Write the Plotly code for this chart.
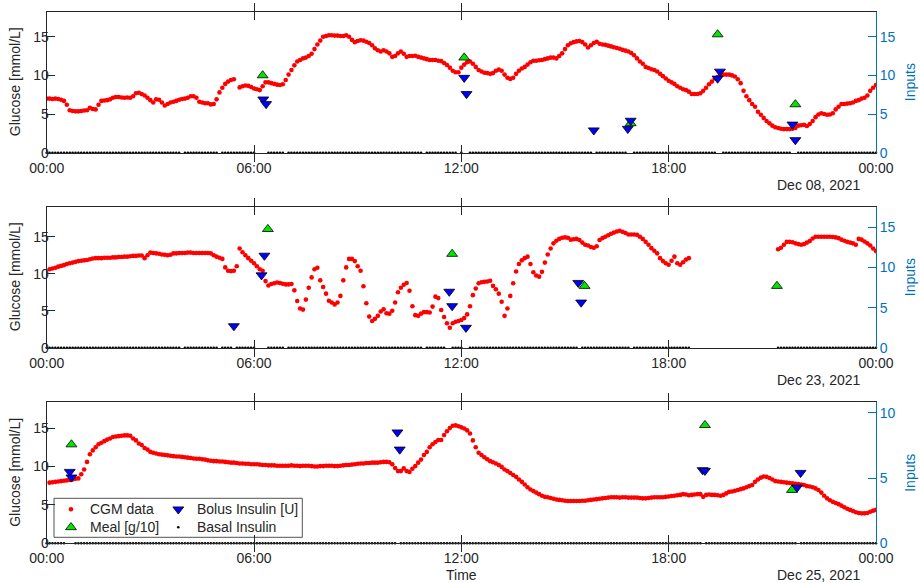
import datetime as dt
import plotly.graph_objects as go

FIG_W, FIG_H = 920, 583
INK = "#262626"
RIGHT_BLUE = "#0072BD"
FONT = "Liberation Sans, Arial, Helvetica, sans-serif"

# ---------------------------------------------------------------- data
days = ["2021-12-08", "2021-12-23", "2021-12-25"]
day_labels = ["Dec 08, 2021", "Dec 23, 2021", "Dec 25, 2021"]

# CGM readings every 5 minutes from 00:00 (None = no reading)
cgm_dec08 = [
    7.0, 7.0, 6.95, 7.0, 6.95, 6.85, 6.7, 6.2, 5.5, 5.4, 5.35, 5.35,
    5.4, 5.45, 5.5, 5.8, 5.65, 5.6, 6.2, 6.7, 6.75, 6.8, 6.9, 7.1,
    7.2, 7.2, 7.15, 7.1, 7.15, 7.1, 7.3, 7.7, 7.75, 7.6, 7.4, 7.1,
    6.8, 6.5, 6.9, 6.85, 6.5, 6.1, 6.3, 6.5, 6.6, 6.7, 6.85, 6.95,
    7.0, 7.1, 7.3, 7.3, 7.1, 6.6, 6.5, 6.4, 6.4, 6.25, 6.3, 6.9,
    7.8, 8.4, 8.9, 9.2, 9.4, 9.5, None, 8.45, 8.6, 8.7, 8.65, 8.5,
    8.3, 8.2, 8.1, 8.6, 9.1, 9.1, 9.0, 8.9, 8.8, 8.75, 8.85, 9.4,
    10.1, 10.7, 11.3, 11.8, 12.0, 12.2, 12.3, 12.5, 12.8, 13.4, 14.0, 14.5,
    15.0, 15.1, 15.2, 15.2, 15.15, 15.15, 15.1, 15.1, 15.2, 15.0, 14.6, 14.3,
    14.45, 14.55, 14.5, 14.35, 14.2, 13.9, 13.5, 13.25, 13.1, 13.25, 13.1, 12.85,
    12.4, 12.5, 12.85, 13.1, 12.8, 12.4, 12.5, 12.5, 12.55, 12.4, 12.3, 12.2,
    12.1, 12.0, 12.0, 12.0, 11.9, 11.85, 11.6, 11.35, 11.0, 10.6, 10.4, 10.4,
    11.0, 11.4, 11.7, 11.8, 11.5, 11.1, 10.7, 10.5, 10.35, 10.3, 10.2, 10.3,
    10.6, 10.75, 10.6, 10.1, 9.7, 9.55, 9.7, 10.2, 10.6, 10.9, 11.1, 11.4,
    11.7, 11.9, 11.9, 11.95, 12.0, 12.1, 12.2, 12.3, 12.3, 12.2, 12.5, 12.85,
    13.4, 13.9, 14.15, 14.3, 14.4, 14.45, 14.3, 14.0, 13.6, 13.9, 14.2, 14.35,
    14.1, 14.0, 13.95, 13.85, 13.75, 13.65, 13.55, 13.45, 13.3, 13.2, 13.1, 12.9,
    12.6, 12.2, 11.8, 11.5, 11.1, 10.95, 10.8, 10.7, 10.5, 10.2, 9.9, 9.6,
    9.3, 9.1, 8.9, 8.6, 8.4, 8.2, 8.1, 7.9, 7.6, 7.6, 7.6, 7.7,
    8.0, 8.4, 8.85, 9.2, 9.6, 9.8, 10.0, 10.1, 10.1, 10.1, 10.0, 9.85,
    9.5, 9.0, 8.0, 7.3, 6.8, 6.3, 5.95, 5.3, 4.9, 4.5, 4.1, 3.8,
    3.5, 3.3, 3.2, 3.1, 3.05, 3.05, 3.05, 3.1, 3.2, 3.5, 3.55, 3.6,
    3.45, 3.7, 4.1, 4.6, 4.95, 5.1, 5.0, 4.9, 4.95, 5.1, 5.6, 5.95,
    6.3, 6.3, 6.35, 6.4, 6.5, 6.7, 6.8, 7.0, 7.1, 7.4, 8.0, 8.4,
    8.75,
]

cgm_dec23 = [
    None, 10.6, 10.7, 10.8, 10.95, 11.05, 11.15, 11.3, 11.4, 11.5, 11.6, 11.7,
    11.75, 11.8, 11.85, 11.95, 12.05, 12.1, 12.1, 12.1, 12.15, 12.15, 12.15, 12.2,
    12.2, 12.25, 12.25, 12.3, 12.3, 12.35, 12.4, 12.4, 12.45, 12.45, 12.1, 12.5,
    12.85, 12.8, 12.75, 12.7, 12.6, 12.55, 12.5, 12.55, 12.75, 12.75, 12.8, 12.8,
    12.8, 12.85, 12.85, 12.8, 12.8, 12.8, 12.8, 12.8, 12.8, 12.75, 12.5, 12.3,
    12.15, 12.0, 10.85, 10.4, 10.35, 10.4, 11.0, 13.4, 12.9, 12.5, 12.1, 11.75,
    11.4, 11.0, 10.6, 10.4, 9.0, 8.4, 8.6, 8.7, 8.8, 8.75, 8.65, 8.55,
    8.55, 8.6, 7.75, 6.3, 5.3, 5.15, 6.5, 8.1, 9.5, 10.6, 10.8, 9.1,
    8.2, 7.3, 6.35, 6.1, 5.85, 6.1, 7.0, 9.1, 10.85, 12.0, 12.0, 11.7,
    11.0, 10.4, 8.3, 6.0, 4.2, 3.6, 3.9, 4.3, 4.9, 5.2, 4.65, 4.6,
    5.0, 6.1, 7.5, 8.1, 8.5, 8.75, 7.7, 5.6, 4.4, 4.3, 4.6, 4.8,
    4.8, 4.75, 5.55, 6.9, 6.7, 5.1, 4.15, 3.3, 2.7, 3.3, 3.5, 3.6,
    3.75, 4.0, 4.5, 5.6, 7.1, 8.0, 8.7, 8.85, 8.9, 8.95, 9.05, 8.35,
    7.9, 7.3, 6.2, 4.3, 5.3, 7.0, 8.7, 10.3, 11.3, 11.8, 12.1, 12.3,
    11.3, 10.2, 9.75, 9.6, 10.25, 11.5, 12.6, 13.4, 14.1, 14.45, 14.7, 14.85,
    14.9, 14.85, 14.6, 14.65, 14.7, 14.55, 14.2, 13.9, 13.8, 13.6, 13.5, 13.7,
    14.55, 14.8, 15.0, 15.2, 15.4, 15.55, 15.7, 15.8, 15.65, 15.5, 15.3, 15.3,
    15.3, 15.25, 15.0, 14.7, 14.3, 13.9, 13.45, 13.1, 12.75, 12.1, 11.7, 11.4,
    11.2, 11.75, 12.3, 11.4, 11.2, 11.55, 11.9, 12.1, None, None, None, None,
    None, None, None, None, None, None, None, None, None, None, None, None,
    None, None, None, None, None, None, None, None, None, None, None, None,
    None, None, 13.3, 13.5, 13.9, 14.3, 14.3, 14.25, 14.1, 14.0, 13.9, 14.0,
    14.2, 14.4, 14.75, 15.0, 15.0, 15.0, 15.0, 15.0, 15.0, 14.95, 14.9, 14.8,
    14.6, 14.45, 14.3, 14.2, 14.1, 13.9, 14.7, 14.6, 14.35, 14.1, 13.8, 13.4,
    13.05,
]

cgm_dec25 = [
    None, 7.9, 7.95, 8.0, 8.05, 8.1, 8.15, 8.2, 8.25, 8.3, 8.4, 8.45,
    9.0, 9.6, 10.6, 11.6, 12.1, 12.5, 12.9, 13.1, 13.3, 13.5, 13.65, 13.85,
    13.9, 13.95, 14.0, 14.05, 14.05, 14.0, 13.65, 13.4, 13.0, 12.8, 12.4, 12.2,
    11.9, 11.8, 11.7, 11.6, 11.55, 11.5, 11.45, 11.4, 11.35, 11.3, 11.3, 11.25,
    11.2, 11.15, 11.1, 11.05, 11.0, 11.0, 10.95, 10.9, 10.8, 10.75, 10.7, 10.7,
    10.65, 10.65, 10.6, 10.55, 10.5, 10.5, 10.45, 10.4, 10.4, 10.35, 10.35, 10.3,
    10.3, 10.3, 10.25, 10.2, 10.2, 10.15, 10.15, 10.15, 10.1, 10.1, 10.1, 10.1,
    10.1, 10.15, 10.1, 10.1, 10.05, 10.1, 10.1, 10.1, 10.05, 10.0, 10.0, 10.05,
    10.05, 10.1, 10.1, 10.1, 10.05, 10.05, 10.1, 10.15, 10.2, 10.2, 10.25, 10.3,
    10.35, 10.4, 10.4, 10.45, 10.45, 10.5, 10.5, 10.5, 10.55, 10.6, 10.6, 10.55,
    10.3, 9.8, 9.4, 9.4, 9.75, 9.4, 9.3, 9.7, 10.05, 10.5, 10.9, 11.5,
    11.9, 12.5, 12.9, 13.2, 13.45, 13.45, 14.1, 14.6, 15.0, 15.3, 15.35, 15.25,
    15.1, 14.95, 14.7, 14.3, 13.4, 12.5, 11.8, 11.5, 11.2, 10.95, 10.7, 10.55,
    10.4, 10.2, 9.95, 9.6, 9.4, 9.15, 8.9, 8.65, 8.3, 8.0, 7.65, 7.3,
    7.0, 6.8, 6.6, 6.4, 6.2, 6.05, 6.0, 5.9, 5.8, 5.7, 5.65, 5.6,
    5.55, 5.5, 5.5, 5.5, 5.5, 5.5, 5.55, 5.55, 5.6, 5.65, 5.7, 5.75,
    5.8, 5.85, 5.9, 5.95, 6.0, 6.0, 6.0, 5.95, 6.0, 6.0, 5.95, 5.95,
    5.95, 5.95, 5.9, 5.85, 5.85, 5.9, 5.95, 6.0, 6.0, 6.0, 6.0, 6.05,
    6.1, 6.15, 6.2, 6.25, 6.3, 6.4, 6.35, 6.25, 6.3, 6.35, 6.4, 6.4,
    6.05, 6.3, 6.35, 6.3, 6.3, 6.25, 6.2, 6.3, 6.5, 6.7, 6.75, 6.85,
    6.95, 7.05, 7.15, 7.3, 7.45, 7.6, 8.0, 8.3, 8.55, 8.7, 8.65, 8.5,
    8.3, 8.1, 8.05, 8.0, 7.95, 7.9, 7.85, 7.8, 7.75, 7.7, 7.65, 7.6,
    7.45, 7.4, 7.3, 7.15, 6.95, 6.6, 6.2, 5.85, 5.6, 5.4, 5.25, 5.1,
    4.9, 4.7, 4.5, 4.35, 4.2, 4.05, 3.95, 3.9, 3.9, 3.95, 4.1, 4.25,
    4.35,
]

# meals [g/10]
meal_times_dec08 = ["06:15", "12:05", "16:54", "19:25", "21:40"]
meal_values_dec08 = [10.0, 12.3, 3.8, 15.3, 6.25]
meal_times_dec23 = ["06:24", "11:44", "15:34", "21:08"]
meal_values_dec23 = [14.8, 11.7, 7.7, 7.7]
meal_times_dec25 = ["00:43", "19:03", "21:34"]
meal_values_dec25 = [7.57, 9.05, 4.08]

# bolus insulin [U]
bolus_times_dec08 = ["06:16", "06:21", "12:05", "12:09", "15:50", "16:49",
                     "16:54", "19:25", "19:29", "21:35", "21:40"]
bolus_values_dec08 = [6.9, 6.3, 9.7, 7.6, 2.9, 3.1, 4.15, 9.6, 10.5, 3.65, 1.64]
bolus_times_dec23 = ["05:25", "06:13", "06:18", "11:39", "11:44", "12:08",
                     "15:23", "15:28"]
bolus_values_dec23 = [2.7, 9.05, 11.5, 7.0, 5.2, 2.5, 8.1, 5.65]
bolus_times_dec25 = ["00:40", "00:43", "10:09", "10:13", "18:59", "19:03",
                     "21:43", "21:49"]
bolus_values_dec25 = [5.48, 5.05, 8.5, 7.19, 5.61, 5.56, 4.28, 5.4]

# basal insulin, logged every 5 minutes; these slots have no record
basal_missing_dec08 = ["03:55", "05:00", "06:05", "06:10", "06:15", "06:20",
                       "06:55", "10:55", "11:55", "12:05", "12:10", "15:50",
                       "16:50", "16:55", "19:25", "19:30", "21:35", "21:40"]
basal_missing_dec23 = ["03:55", "05:00", "05:25", "06:05", "06:10", "06:15",
                       "06:20", "06:55", "10:55", "11:35", "11:40", "12:05",
                       "12:10", "15:25", "16:55"] + \
    [f"{h:02d}:{m:02d}" for h in range(18, 21) for m in range(0, 60, 5)
     if (h, m) >= (18, 40)] + ["21:00", "21:05"]
basal_missing_dec25 = ["00:35", "00:40", "00:45", "10:10", "19:00", "21:45"]

basal_rate = 0.0

glucose_top = [18.24, 19.05, 18.36]
inputs_top = [18.24, 17.6, 10.8]
glucose_ticks = [0, 5, 10, 15]
inputs_ticks = [[0, 5, 10, 15], [0, 5, 10, 15], [0, 5, 10]]

cgm_series = [cgm_dec08, cgm_dec23, cgm_dec25]
meal_times = [meal_times_dec08, meal_times_dec23, meal_times_dec25]
meal_values = [meal_values_dec08, meal_values_dec23, meal_values_dec25]
bolus_times = [bolus_times_dec08, bolus_times_dec23, bolus_times_dec25]
bolus_values = [bolus_values_dec08, bolus_values_dec23, bolus_values_dec25]
basal_missing = [basal_missing_dec08, basal_missing_dec23, basal_missing_dec25]

# ---------------------------------------------------------------- layout geometry (px)
PLOT_LEFT, PLOT_RIGHT = 46.7, 876.0
PANEL_TOP = [11.7, 206.7, 402.3]
PANEL_BOTTOM = [152.7, 347.7, 543.3]


def fx(px):
    return px / FIG_W


def fy(py):
    return 1 - py / FIG_H


def at(day, hhmm):
    base = dt.datetime.fromisoformat(day)
    h, m = map(int, hhmm.split(":"))
    return base + dt.timedelta(hours=h, minutes=m)


STEP = dt.timedelta(minutes=5)
CGM_STYLE = dict(color="#ff0000", size=4.6, line=dict(width=0))
MEAL_STYLE = dict(symbol="triangle-up", color="#00e600", size=9.5,
                  line=dict(color="#000000", width=0.8))
BOLUS_STYLE = dict(symbol="triangle-down", color="#0000ff", size=9.5,
                   line=dict(color="#000000", width=0.8))
BASAL_STYLE = dict(color="#000000", size=2.6, line=dict(width=0))

fig = go.Figure()
annotations = []

for i, day in enumerate(days):
    n = i + 1
    xa = "x" if n == 1 else f"x{n}"
    yl = "y" if n == 1 else f"y{2 * n - 1}"
    yr = f"y{2 * n}"
    base = dt.datetime.fromisoformat(day)

    cgm = cgm_series[i]
    cgm_t = [base + k * STEP for k in range(len(cgm))]
    fig.add_trace(go.Scatter(x=cgm_t, y=cgm, mode="markers", marker=CGM_STYLE,
                             xaxis=xa, yaxis=yl, showlegend=False,
                             name="CGM data"))

    missing = set(basal_missing[i])
    basal_t = [base + k * STEP for k in range(289)]
    basal_v = [None if (k < 288 and t.strftime("%H:%M") in missing) else basal_rate
               for k, t in enumerate(basal_t)]
    fig.add_trace(go.Scatter(x=basal_t, y=basal_v, mode="markers",
                             marker=BASAL_STYLE, xaxis=xa, yaxis=yr,
                             cliponaxis=False, showlegend=False,
                             name="Basal Insulin"))

    fig.add_trace(go.Scatter(x=[at(day, t) for t in meal_times[i]],
                             y=meal_values[i], mode="markers", marker=MEAL_STYLE,
                             xaxis=xa, yaxis=yr, showlegend=False,
                             name="Meal [g/10]"))
    fig.add_trace(go.Scatter(x=[at(day, t) for t in bolus_times[i]],
                             y=bolus_values[i], mode="markers", marker=BOLUS_STYLE,
                             xaxis=xa, yaxis=yr, showlegend=False,
                             name="Bolus Insulin [U]"))

    top, bot = PANEL_TOP[i], PANEL_BOTTOM[i]
    ydom = [fy(bot), fy(top)]
    next_day = (base + dt.timedelta(days=1)).strftime("%Y-%m-%d")

    axis_font = dict(family=FONT, size=14, color=INK)
    fig.layout[f"xaxis{'' if n == 1 else n}"] = dict(
        domain=[fx(PLOT_LEFT), fx(PLOT_RIGHT)], anchor=yl, type="date",
        range=[f"{day} 00:00", f"{next_day} 00:00"], automargin=False,
        tickmode="linear", tick0=f"{day} 00:00", dtick=6 * 3600 * 1000,
        tickformat="%H:%M", ticks="inside", ticklen=8, tickwidth=1,
        tickcolor=INK, showline=True, linecolor=INK, linewidth=1,
        mirror="allticks", showgrid=False, zeroline=False, tickfont=axis_font,
        ticklabelstandoff=2,
    )
    fig.layout[f"yaxis{'' if n == 1 else 2 * n - 1}"] = dict(
        domain=ydom, anchor=xa, range=[0, glucose_top[i]], automargin=False,
        tickmode="array", tickvals=glucose_ticks, ticks="inside", ticklen=8,
        tickwidth=1, tickcolor=INK, showline=True, linecolor=INK, linewidth=1,
        showgrid=False, zeroline=False, tickfont=axis_font,
        ticklabelstandoff=-6,
    )
    fig.layout[f"yaxis{2 * n}"] = dict(
        domain=ydom, anchor=xa, overlaying=yl, side="right", automargin=False,
        range=[0, inputs_top[i]], tickmode="array", tickvals=inputs_ticks[i],
        ticks="inside", ticklen=8, tickwidth=1, tickcolor=RIGHT_BLUE,
        showline=True, linecolor=RIGHT_BLUE, linewidth=1, showgrid=False,
        zeroline=False, tickfont=dict(family=FONT, size=14, color=RIGHT_BLUE),
    )

    mid = fy((top + bot) / 2)
    annotations += [
        dict(text="Glucose [mmol/L]", x=fx(15), y=mid, xref="paper", yref="paper",
             textangle=-90, showarrow=False, xanchor="center", yanchor="middle",
             font=dict(family=FONT, size=14, color=INK)),
        dict(text="Inputs", x=fx(910), y=mid, xref="paper", yref="paper",
             textangle=-90, showarrow=False, xanchor="center", yanchor="middle",
             font=dict(family=FONT, size=14, color=RIGHT_BLUE)),
        dict(text=day_labels[i], x=fx(862), y=fy(bot + 32), xref="paper",
             yref="paper", showarrow=False, xanchor="right", yanchor="middle",
             font=dict(family=FONT, size=14, color=INK)),
    ]

annotations.append(dict(text="Time", x=fx((PLOT_LEFT + PLOT_RIGHT) / 2),
                        y=fy(PANEL_BOTTOM[2] + 32), xref="paper", yref="paper",
                        showarrow=False, xanchor="center", yanchor="middle",
                        font=dict(family=FONT, size=14, color=INK)))

# ---------------------------------------------------------------- legend (bottom panel)
LEG_L, LEG_T, LEG_R, LEG_B = 54.0, 498.3, 302.3, 537.3
leg_w, leg_h = LEG_R - LEG_L, LEG_B - LEG_T
legend_entries = [
    ("CGM data", CGM_STYLE, 17.0, 28.0),
    ("Meal [g/10]", MEAL_STYLE, 17.0, 10.0),
    ("Bolus Insulin [U]", BOLUS_STYLE, 124.3, 28.0),
    ("Basal Insulin", BASAL_STYLE, 124.3, 10.0),
]
for label, style, kx, ky in legend_entries:
    fig.add_trace(go.Scatter(x=[kx], y=[ky], mode="markers", marker=style,
                             xaxis="x4", yaxis="y7", showlegend=False,
                             hoverinfo="skip", name=label))
    annotations.append(dict(text=label, x=kx + 16.5, y=ky, xref="x4", yref="y7",
                            showarrow=False, xanchor="left", yanchor="middle",
                            font=dict(family=FONT, size=14, color=INK)))

fig.layout["xaxis4"] = dict(domain=[fx(LEG_L), fx(LEG_R)], range=[0, leg_w],
                            visible=False, anchor="y7", fixedrange=True,
                            automargin=False)
fig.layout["yaxis7"] = dict(domain=[fy(LEG_B), fy(LEG_T)], range=[0, leg_h],
                            visible=False, anchor="x4", fixedrange=True,
                            automargin=False)

fig.update_layout(
    width=FIG_W, height=FIG_H,
    margin=dict(l=0, r=0, t=0, b=0, autoexpand=False),
    paper_bgcolor="white", plot_bgcolor="rgba(0,0,0,0)",
    showlegend=False, annotations=annotations,
    shapes=[dict(type="rect", xref="paper", yref="paper",
                 x0=fx(LEG_L), x1=fx(LEG_R), y0=fy(LEG_B), y1=fy(LEG_T),
                 line=dict(color=INK, width=0.8), fillcolor="rgba(0,0,0,0)",
                 layer="above")],
    font=dict(family=FONT, size=14, color=INK),
)

fig.write_html("out.html")
